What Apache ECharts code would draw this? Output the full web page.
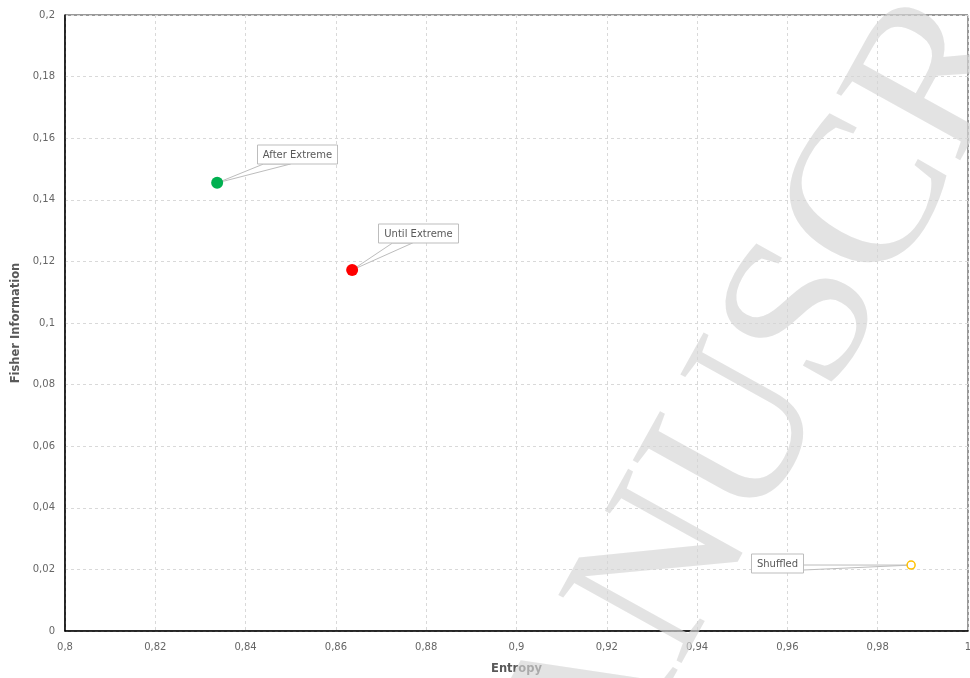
<!DOCTYPE html>
<html>
<head>
<meta charset="utf-8">
<title>Fisher Information vs Entropy</title>
<script src="https://cdn.jsdelivr.net/npm/echarts@6/dist/echarts.min.js"></script>
<style>
  html, body { margin: 0; padding: 0; background: #fff; }
  #chart { width: 970px; height: 678px; }
</style>
</head>
<body>
<div id="chart"></div>
<script>
// Series values: one point per time-series variant
const pointNames = ['After Extreme', 'Until Extreme', 'Shuffled'];
const entropy = [0.8337, 0.8636, 0.9874];
const fisherInfo = [0.1455, 0.1172, 0.0214];

// Axis ranges and tick steps
const xRange = [0.8, 1.0];
const yRange = [0, 0.2];
const tickStep = 0.02;

// Marker styles per point
const markerStyles = [
  { size: 12, fill: '#00b050', stroke: '#00b050', width: 0 },
  { size: 12, fill: '#ff0000', stroke: '#ff0000', width: 0 },
  { size: 8, fill: '#ffffff', stroke: '#ffc000', width: 1.5 }
];

// Callout boxes: box centre offset from the point, box width, and the two
// points on the box edge where the pointer wedge attaches (relative to box centre)
const calloutLayout = [
  { dx: 80, dy: -28.5, w: 80, wedge: [[-34, 9.5], [-7, 9.5]] },
  { dx: 66, dy: -37.5, w: 80, wedge: [[-26, 9.5], [-6, 9.5]] },
  { dx: -134.5, dy: -2.5, w: 52, wedge: [[26, 1.5], [26, 6.5]] }
];

const decimalComma = v => String(parseFloat(v.toFixed(4))).replace('.', ',');

const labelFont = { fontFamily: 'DejaVu Sans', fontSize: 10, color: '#666' };
const nameFont = { fontFamily: 'DejaVu Sans', fontSize: 11.5, fontWeight: 'bold', color: '#595959' };
const gridLine = { show: true, lineStyle: { color: '#d9d9d9', type: [3, 3], width: 1 } };

const chart = echarts.init(document.getElementById('chart'), null, { renderer: 'canvas' });

const scatterData = pointNames.map((n, i) => ({
  name: n,
  value: [entropy[i], fisherInfo[i]],
  symbolSize: markerStyles[i].size,
  itemStyle: {
    color: markerStyles[i].fill,
    borderColor: markerStyles[i].stroke,
    borderWidth: markerStyles[i].width,
    opacity: 1
  }
}));

chart.setOption({
  animation: false,
  backgroundColor: '#ffffff',
  grid: {
    left: 65, right: 2, top: 15, bottom: 47,
    containLabel: false,
    outerBoundsMode: 'none',
    show: true, borderColor: '#333', borderWidth: 1, backgroundColor: 'transparent'
  },
  xAxis: {
    type: 'value',
    min: xRange[0], max: xRange[1], interval: tickStep,
    name: 'Entropy', nameLocation: 'middle', nameGap: 32,
    nameTextStyle: nameFont,
    axisLine: { show: true, onZero: false, lineStyle: { color: '#000', width: 1.5 } },
    axisTick: { show: false },
    axisLabel: Object.assign({ margin: 11, formatter: decimalComma }, labelFont),
    splitLine: gridLine
  },
  yAxis: {
    type: 'value',
    min: yRange[0], max: yRange[1], interval: tickStep,
    name: 'Fisher Information', nameLocation: 'middle', nameGap: 37,
    nameTextStyle: nameFont,
    axisLine: { show: true, onZero: false, lineStyle: { color: '#000', width: 1.5 } },
    axisTick: { show: false },
    axisLabel: Object.assign({ margin: 10, formatter: decimalComma }, labelFont),
    splitLine: gridLine
  },
  series: [
    {
      // callout boxes with pointer wedges
      type: 'custom',
      z: 3,
      silent: true,
      data: pointNames.map((n, i) => [entropy[i], fisherInfo[i]]),
      renderItem: (params, api) => {
        const i = params.dataIndex;
        const p = api.coord([api.value(0), api.value(1)]);
        const L = calloutLayout[i];
        const cx = Math.round(p[0] + L.dx) + 0.5;
        const cy = Math.round(p[1] + L.dy) + 0.5;
        const h = 19;
        const a = [cx + L.wedge[0][0], cy + L.wedge[0][1]];
        const b = [cx + L.wedge[1][0], cy + L.wedge[1][1]];
        return {
          type: 'group',
          children: [
            { type: 'polygon', shape: { points: [p, a, b] },
              style: { fill: '#ffffff', stroke: '#bdbdbd', lineWidth: 1 } },
            { type: 'rect', shape: { x: cx - L.w / 2, y: cy - h / 2, width: L.w, height: h },
              style: { fill: '#ffffff', stroke: '#bdbdbd', lineWidth: 1 } },
            { type: 'text',
              style: { text: pointNames[i], x: cx, y: cy + 0.5, align: 'center', verticalAlign: 'middle',
                       font: '10px "DejaVu Sans"', fill: '#595959' } }
          ]
        };
      }
    },
    {
      type: 'scatter',
      z: 5,
      symbol: 'circle',
      data: scatterData
    }
  ],
  graphic: [
    {
      // faint diagonal watermark lettering over the chart
      type: 'text',
      z: 100,
      silent: true,
      x: 797, y: 338,
      rotation: 61 * Math.PI / 180,
      style: {
        text: 'MANUSCRIPT',
        font: '215px "Liberation Serif"',
        fill: 'rgba(213,213,213,0.66)',
        align: 'center',
        verticalAlign: 'middle'
      }
    }
  ]
});
</script>
</body>
</html>
